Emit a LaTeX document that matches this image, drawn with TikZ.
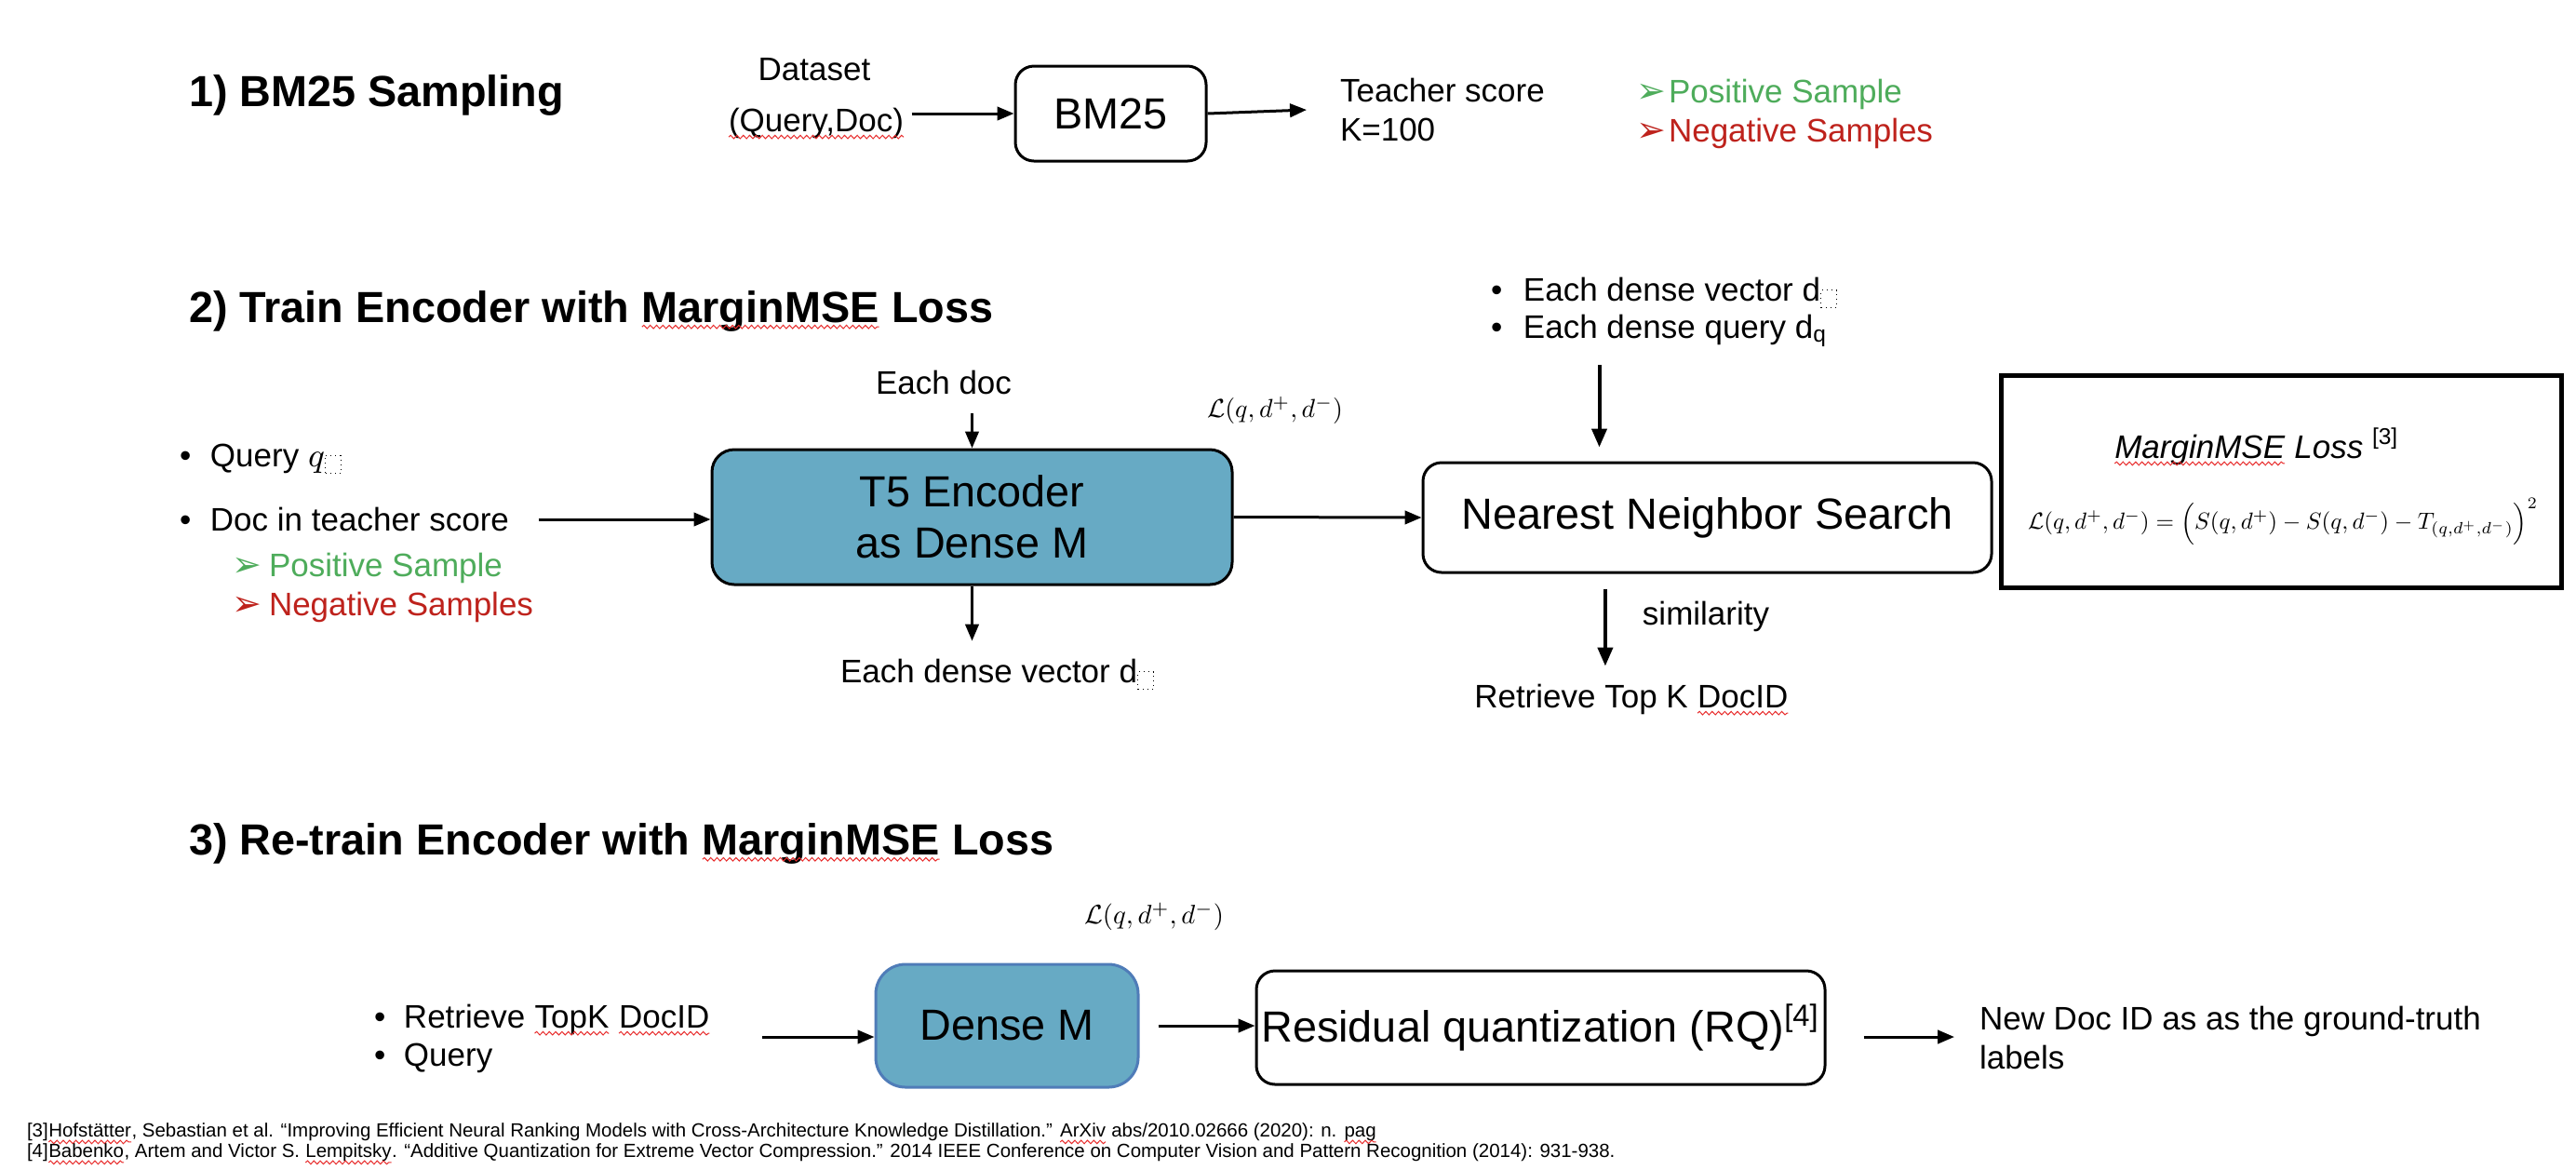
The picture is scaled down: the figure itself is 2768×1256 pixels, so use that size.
\documentclass[tikz,border=0pt]{standalone}
\usepackage{fontspec}
\usepackage{graphicx}
\setmainfont{Liberation Sans}
\newfontfamily\dejavu{DejaVu Sans}
\usetikzlibrary{arrows.meta,decorations.pathmorphing}
\definecolor{tblue}{RGB}{103,170,196}
\definecolor{bblue}{RGB}{79,124,184}
\definecolor{pgreen}{RGB}{78,172,91}
\definecolor{nred}{RGB}{190,34,28}
\definecolor{wavered}{RGB}{232,44,44}
\newcommand\bigf{\fontsize{11.7}{13.75}\selectfont}
\newcommand\smf{\fontsize{8.75}{10.5}\selectfont}
\newcommand\fnf{\fontsize{5.12}{6}\selectfont}
\newcommand\dbox{\tikz[baseline=0pt]\draw[densely dotted,line width=0.25pt] (0pt,-1.75pt) rectangle (4.2pt,3pt);}
\newcommand\sq[1]{\tikz[baseline=(w.base)]{\node[inner sep=0pt,outer sep=0pt,anchor=base,draw=none,fill=none,minimum width=0pt,minimum height=0pt](w){#1};\draw[wavered,line width=0.25pt,decorate,decoration={snake,amplitude=0.45pt,segment length=1.7pt}] ([yshift=-1.3pt]w.base west) -- ([yshift=-1.3pt]w.base east);}}
\newcommand\arrg{{\dejavu\fontsize{9.5}{10}\selectfont ➢}}
\newcommand\lossL{$\mathcal{L}(q,d^{+},d^{-})$}
\begin{document}
\begin{tikzpicture}[x=0.25pt,y=-0.25pt,
  arr/.style={-{Triangle[length=4.5pt,width=3.6pt]},line width=0.75pt},
  arrb/.style={-{Triangle[length=5pt,width=4pt]},line width=1pt},
  txt/.style={inner sep=0pt,outer sep=0pt},
  rbox/.style={draw,line width=0.75pt,rounded corners=5pt,inner sep=0pt,align=center}]
\useasboundingbox[fill=white] (0,0) rectangle (2768,1256);

% ---------- Section 1
\node[txt,anchor=west,font=\bigf\bfseries] (t1) at (203,102) {1) BM25 Sampling};
\node[txt,font=\smf] (ds) at (875,75) {Dataset};
\node[txt,font=\smf] (qd) at (877,133) {\sq{(Query,Doc)}};
\node[rbox,minimum width=51.25pt,minimum height=25.5pt,font=\bigf] (bm) at (1193.5,122) {BM25};
\draw[arr,shorten <=2pt] (qd.east |- bm.west) -- (bm.west);
\node[txt,font=\smf,align=left,anchor=west] (ts) at (1440,118) {Teacher score\\K=100};
\draw[arr] (bm.east) -- ([xshift=-9pt]ts.west);
\node[txt,font=\smf,anchor=west,text=pgreen] (ps1) at (1758,101) {\makebox[8.75pt][l]{\arrg}Positive Sample};
\node[txt,font=\smf,anchor=west,text=nred] (ns1) at (1758,143) {\makebox[8.75pt][l]{\arrg}Negative Samples};

% ---------- Section 2
\node[txt,anchor=west,font=\bigf\bfseries] (t2) at (203,334) {2) Train Encoder with \sq{MarginMSE} Loss};
\node[txt,font=\smf] (ed) at (1014,411) {Each doc};
\node[rbox,fill=tblue,minimum width=139.75pt,minimum height=36.25pt,rounded corners=6pt,font=\bigf] (t5) at (1044.5,555.5) {T5 Encoder\\as Dense M};
\draw[arr,shorten <=5pt] (ed.south -| t5.north) -- (t5.north);
\node[txt,font=\smf,anchor=west] (edv) at (903,725) {Each dense vector d\dbox};
\draw[arr,shorten >=5pt] (t5.south) -- (t5.south |- edv.north);
\node[txt,font=\smf,anchor=west] (q1) at (193,493) {\makebox[8.25pt][l]{•}Query $q$\dbox};
\node[txt,font=\smf,anchor=west] (q2) at (193,558) {\makebox[8.25pt][l]{•}Doc in teacher score};
\node[txt,font=\smf,anchor=west,text=pgreen] (p2) at (249,610) {\makebox[10pt][l]{\arrg}Positive Sample};
\node[txt,font=\smf,anchor=west,text=nred] (n2) at (249,652) {\makebox[10pt][l]{\arrg}Negative Samples};
\draw[arr,shorten <=8pt] (q2.east) -- (q2.east -| t5.west);
\node[txt] (lab1) at (1370,441) {\resizebox{36.5pt}{!}{\lossL}};
\node[rbox,minimum width=152.75pt,minimum height=29.5pt,font=\bigf] (nns) at (1834.5,556) {Nearest Neighbor Search};
\draw[arr] (t5.east) -- (nns.west);
\node[txt,font=\smf,anchor=west] (v1) at (1602,315) {\makebox[8.75pt][l]{•}Each dense vector d\dbox};
\node[txt,font=\smf,anchor=west] (v2) at (1602,355) {\makebox[8.75pt][l]{•}Each dense query d\textsubscript{q}};
\coordinate (nnsin) at ([xshift=-29pt]nns.north);
\draw[arrb,shorten <=5pt,shorten >=3.75pt] (nnsin |- v2.south) -- (nnsin);
\coordinate (nnsout) at ([xshift=-27.4pt]nns.south);
\node[txt,font=\smf] (sim) at (1833,662) {similarity};
\node[txt,font=\smf] (rt) at (1753,752) {Retrieve Top K \sq{DocID}};
\draw[arrb,shorten <=4pt,shorten >=5pt] (nnsout) -- (nnsout |- rt.north);
\node[draw,line width=1.25pt,minimum width=150.5pt,minimum height=57pt,inner sep=0pt] (mm) at (2451,517) {};
\node[txt,font=\smf\itshape] (mmt) at (2425,480) {\sq{MarginMSE} Loss \textsuperscript{\upshape[3]}};
\node[txt] (mf) at (2453,560) {\resizebox{137pt}{!}{$\mathcal{L}(q,d^{+},d^{-}) = \Bigl(S(q,d^{+}) - S(q,d^{-}) - T_{(q,d^{+},d^{-})}\Bigr)^{2}$}};

% ---------- Section 3
\node[txt,anchor=west,font=\bigf\bfseries] (t3) at (203,906) {3) Re-train Encoder with \sq{MarginMSE} Loss};
\node[txt] (lab3) at (1240,985) {\resizebox{37.5pt}{!}{\lossL}};
\node[txt,font=\smf,anchor=west] (r1) at (402,1096) {\makebox[8pt][l]{•}Retrieve \sq{TopK} \sq{DocID}};
\node[txt,font=\smf,anchor=west] (r2) at (402,1137) {\makebox[8pt][l]{•}Query};
\node[rbox,fill=tblue,draw=bblue,minimum width=70.5pt,minimum height=33pt,rounded corners=8pt,font=\bigf] (dm) at (1082,1102) {Dense M};
\coordinate (dmin) at ([yshift=-3pt]dm.west);
\draw[arr,shorten <=14pt] (r1.east |- dmin) -- (dmin);
\node[rbox,minimum width=152.75pt,minimum height=30.5pt,font=\bigf] (rq) at (1655.5,1104) {Residual quantization (RQ)\textsuperscript{[4]}};
\draw[arr,shorten <=5pt] (dm.east) -- (dm.east -| rq.west);
\node[txt,font=\smf,align=left,anchor=west] (nd) at (2127,1115) {New Doc ID as as the ground-truth\\labels};
\coordinate (rqout) at ([yshift=-2.5pt]rq.east);
\draw[arr,shorten <=10pt,shorten >=6.75pt] (rqout) -- (rqout -| nd.west);

% ---------- Footnotes
\node[txt,font=\fnf,anchor=west] (f1) at (29,1218) {[3]\sq{Hofstätter}, Sebastian et al. “Improving Efficient Neural Ranking Models with Cross-Architecture Knowledge Distillation.” \sq{ArXiv} abs/2010.02666 (2020): n. \sq{pag}};
\node[txt,font=\fnf,anchor=west] (f2) at (29,1240) {[4]\sq{Babenko}, Artem and Victor S. \sq{Lempitsky}. “Additive Quantization for Extreme Vector Compression.” 2014 IEEE Conference on Computer Vision and Pattern Recognition (2014): 931-938.};
\end{tikzpicture}
\end{document}
